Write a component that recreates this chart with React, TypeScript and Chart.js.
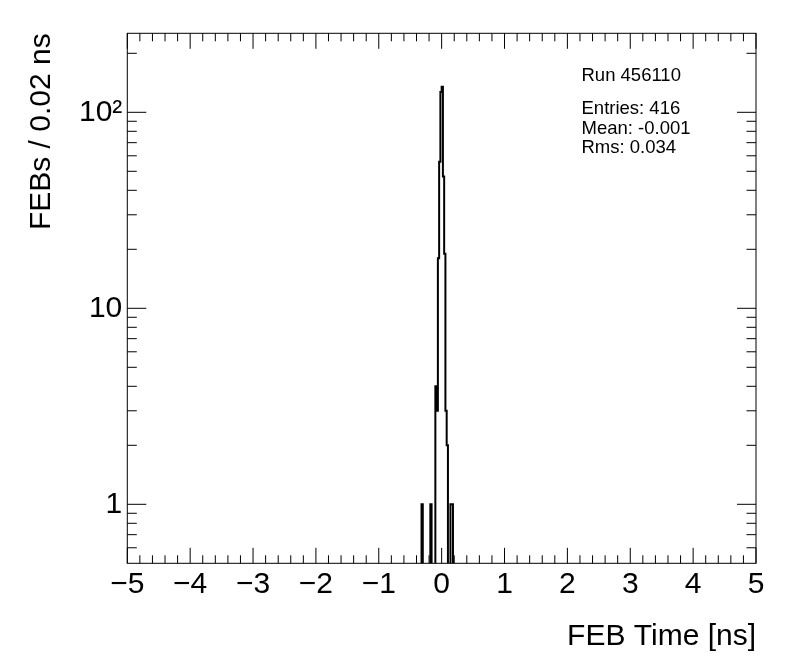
import { useEffect, useRef } from 'react';
import { Chart, registerables } from 'chart.js';

Chart.register(...registerables);

// ---- data ----
const BIN_WIDTH = 0.02;
const X_MIN = -5;
const X_MAX = 5;
const filledBinCenters = [-0.31, -0.17, -0.09, -0.07, -0.05, -0.03, -0.01, 0.01, 0.03, 0.05, 0.07, 0.09, 0.15, 0.17];
const filledBinCounts = [1, 1, 4, 3, 18, 56, 127, 135, 47, 19, 3, 2, 1, 1];

const xTickValues = [-5, -4, -3, -2, -1, 0, 1, 2, 3, 4, 5];
const xMinorDivisions = 5;
const yLabelTicks = [1, 10, 100];
const yMinorTicks = [0.6, 0.7, 0.8, 0.9, 2, 3, 4, 5, 6, 7, 8, 9, 20, 30, 40, 50, 60, 70, 80, 90, 200];
const Y_MIN = 0.5;
const Y_MAX = 253;

const xTitle = 'FEB Time [ns]';
const yTitle = 'FEBs / 0.02 ns';
const statsLines = ['Run 456110', 'Entries: 416', 'Mean: -0.001', 'Rms: 0.034'];

const FONT = 'Liberation Sans, Arial, Helvetica, sans-serif';
const EMPTY_FLOOR = 0.1; // below the axis minimum, so clipped like ROOT's empty bins

function formatX(v: number): string {
  return v < 0 ? '\u2212' + Math.abs(v) : String(v);
}
function formatY(v: number): string {
  if (v === 100) return '10\u00B2';
  return String(v);
}

const rootFramePlugin = {
  id: 'rootFrame',
  afterDatasetsDraw(chart: any) {
    const { ctx, chartArea, scales } = chart;
    const { left, right, top, bottom } = chartArea;
    const xs = scales.x;
    const ys = scales.y;
    ctx.save();
    ctx.strokeStyle = '#000';
    ctx.lineWidth = 1;
    ctx.strokeRect(left, top, right - left, bottom - top);
    ctx.beginPath();
    const xMajorLen = 15.5;
    const xMinorLen = 8;
    const yMajorLen = 19;
    const yMinorLen = 9.5;
    for (let i = 0; i < xTickValues.length; i++) {
      const v = xTickValues[i];
      const px = xs.getPixelForValue(v);
      ctx.moveTo(px, bottom); ctx.lineTo(px, bottom - xMajorLen);
      ctx.moveTo(px, top); ctx.lineTo(px, top + xMajorLen);
      if (i < xTickValues.length - 1) {
        const step = (xTickValues[i + 1] - v) / xMinorDivisions;
        for (let k = 1; k < xMinorDivisions; k++) {
          const mx = xs.getPixelForValue(v + k * step);
          ctx.moveTo(mx, bottom); ctx.lineTo(mx, bottom - xMinorLen);
          ctx.moveTo(mx, top); ctx.lineTo(mx, top + xMinorLen);
        }
      }
    }
    for (const v of yLabelTicks) {
      const py = ys.getPixelForValue(v);
      ctx.moveTo(left, py); ctx.lineTo(left + yMajorLen, py);
      ctx.moveTo(right, py); ctx.lineTo(right - yMajorLen, py);
    }
    for (const v of yMinorTicks) {
      const py = ys.getPixelForValue(v);
      ctx.moveTo(left, py); ctx.lineTo(left + yMinorLen, py);
      ctx.moveTo(right, py); ctx.lineTo(right - yMinorLen, py);
    }
    ctx.stroke();
    ctx.restore();
  },
  afterDraw(chart: any) {
    const { ctx } = chart;
    ctx.save();
    ctx.fillStyle = '#000';
    ctx.font = `18.5px ${FONT}`;
    ctx.textAlign = 'left';
    ctx.textBaseline = 'alphabetic';
    const baselines = [80.5, 114, 133.5, 152.5];
    statsLines.forEach((s, i) => ctx.fillText(s, 581.5, baselines[i]));
    ctx.restore();
  },
};

export default function App() {
  const ref = useRef<HTMLCanvasElement>(null);
  useEffect(() => {
    const canvas = ref.current;
    if (!canvas) return;
    const nBins = Math.round((X_MAX - X_MIN) / BIN_WIDTH);
    const counts: number[] = new Array(nBins).fill(0);
    filledBinCenters.forEach((c, i) => {
      const idx = Math.round((c - X_MIN) / BIN_WIDTH - 0.5);
      if (idx >= 0 && idx < nBins) counts[idx] += filledBinCounts[i];
    });
    const points: { x: number; y: number }[] = [];
    for (let i = 0; i <= nBins; i++) {
      const c = counts[Math.min(i, nBins - 1)];
      points.push({ x: X_MIN + i * BIN_WIDTH, y: c > 0 ? c : EMPTY_FLOOR });
    }

    const chart = new Chart(canvas, {
      type: 'line',
      data: {
        datasets: [
          {
            data: points,
            borderColor: '#000',
            borderWidth: 2,
            pointRadius: 0,
            stepped: 'before',
            fill: false,
            tension: 0,
          } as any,
        ],
      },
      options: {
        animation: false,
        responsive: false,
        devicePixelRatio: 1,
        events: [],
        layout: { padding: { left: 0, top: 33.3, right: 40, bottom: 0 } },
        plugins: { legend: { display: false }, tooltip: { enabled: false }, title: { display: false } },
        scales: {
          x: {
            type: 'linear',
            min: X_MIN,
            max: X_MAX,
            grid: { display: false, drawTicks: false },
            border: { display: false },
            afterBuildTicks: (s: any) => {
              s.ticks = xTickValues.map((v) => ({ value: v }));
            },
            afterFit: (s: any) => {
              s.height = 108.7;
            },
            ticks: {
              autoSkip: false,
              maxRotation: 0,
              minRotation: 0,
              padding: 3,
              color: '#000',
              font: { family: FONT, size: 30 },
              callback: (v: any) => formatX(Number(v)),
            },
            title: {
              display: true,
              text: xTitle,
              align: 'end',
              color: '#000',
              font: { family: FONT, size: 30 },
              padding: { top: 0, bottom: 17 },
            },
          },
          y: {
            type: 'logarithmic',
            min: Y_MIN,
            max: Y_MAX,
            grid: { display: false, drawTicks: false },
            border: { display: false },
            afterBuildTicks: (s: any) => {
              s.ticks = yLabelTicks.map((v) => ({ value: v }));
            },
            afterFit: (s: any) => {
              s.width = 127.3;
            },
            ticks: {
              autoSkip: false,
              padding: 5,
              color: '#000',
              font: { family: FONT, size: 30 },
              callback: (v: any) => formatY(Number(v)),
            },
            title: {
              display: true,
              text: yTitle,
              align: 'end',
              color: '#000',
              font: { family: FONT, size: 30 },
              padding: { top: 24, bottom: 0 },
            },
          },
        },
      } as any,
      plugins: [rootFramePlugin],
    });
    return () => chart.destroy();
  }, []);
  return (
    <div style={{ position: 'fixed', left: 0, top: 0, width: 796, height: 672, background: '#fff' }}>
      <canvas ref={ref} width={796} height={672} style={{ display: 'block', width: 796, height: 672 }} />
    </div>
  );
}
